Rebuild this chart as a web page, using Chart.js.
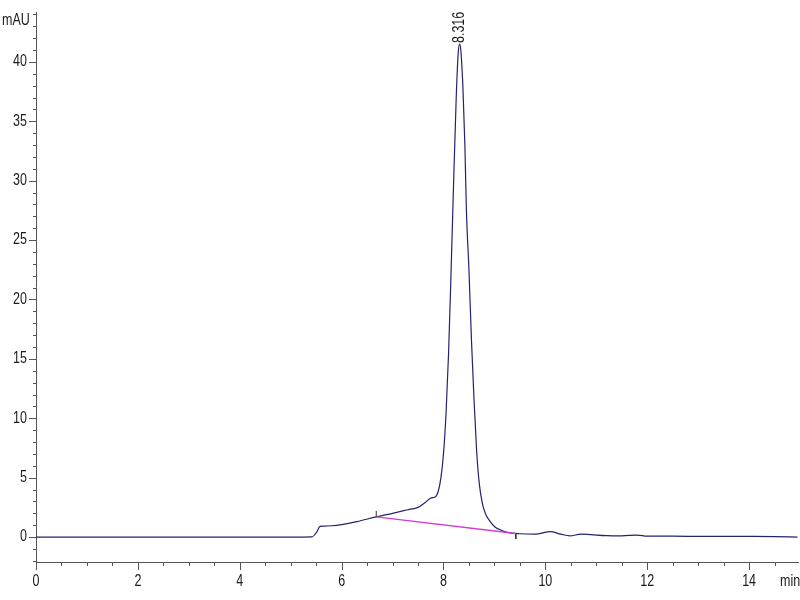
<!DOCTYPE html>
<html>
<head>
<meta charset="utf-8">
<script src="https://cdn.jsdelivr.net/npm/chart.js@4/dist/chart.umd.min.js"></script>
<style>
  html, body { margin: 0; padding: 0; background: #fff; }
  #wrap { width: 800px; height: 600px; }
</style>
</head>
<body>
<div id="wrap"><canvas id="c" width="800" height="600"></canvas></div>
<script>
// Chromatogram trace (retention time in min, absorbance in mAU)
const times = [0, 1, 2, 3, 4, 5, 5.42, 5.5, 5.58, 5.65, 5.8, 6.0, 6.3, 6.68, 7.0, 7.3, 7.5, 7.64, 7.76, 7.83, 7.90, 7.95, 8.00, 8.05, 8.10, 8.15, 8.20, 8.25, 8.29, 8.316, 8.34, 8.38, 8.42, 8.45, 8.50, 8.55, 8.60, 8.65, 8.70, 8.76, 8.82, 8.90, 9.01, 9.15, 9.31, 9.5, 9.8, 10.1, 10.3, 10.48, 10.7, 10.9, 11.2, 11.5, 11.8, 12.0, 12.5, 13.0, 14.0, 14.5, 14.95];
const absorbance = [0, 0, 0, 0, 0, 0, 0.02, 0.35, 0.9, 0.92, 0.95, 1.05, 1.3, 1.7, 2.0, 2.3, 2.5, 2.9, 3.3, 3.35, 3.9, 5.0, 7.0, 10.4, 15.5, 22.5, 30, 37, 40.8, 41.5, 41, 38, 33, 27.5, 22.5, 16.5, 11.5, 7.3, 4.6, 2.9, 2.0, 1.4, 0.85, 0.55, 0.35, 0.28, 0.25, 0.45, 0.25, 0.1, 0.25, 0.2, 0.12, 0.1, 0.17, 0.08, 0.07, 0.06, 0.05, 0.04, 0.0];
// Integration baseline (start/end)
const baseTimes = [6.68, 9.42];
const baseValues = [1.7, 0.3];
// Peak annotation
const peakTime = 8.316;
const peakLabel = "8.316";
// Axis labels
const yUnit = "mAU";
const xUnit = "min";
const xTickLabels = ["0", "2", "4", "6", "8", "10", "12", "14"];
const yTickLabels = ["0", "5", "10", "15", "20", "25", "30", "35", "40"];
const xMajorStep = 2;
const yMajorStep = 5;

const FONT = '"Liberation Sans", Arial, sans-serif';
const SQUISH = 0.78;

const trace = times.map((t, i) => ({ x: t, y: absorbance[i] }));
const baseline = baseTimes.map((t, i) => ({ x: t, y: baseValues[i] }));
const startMark = [{ x: baseTimes[0], y: baseValues[0] }, { x: baseTimes[0], y: baseValues[0] + 0.5 }];
const endMark = [{ x: baseTimes[1], y: baseValues[1] }, { x: baseTimes[1], y: baseValues[1] - 0.45 }];

function narrowText(ctx, text, x, y, align, rot) {
  ctx.save();
  ctx.translate(x, y);
  if (rot) ctx.rotate(rot);
  ctx.scale(SQUISH, 1);
  ctx.textAlign = align;
  ctx.textBaseline = 'middle';
  ctx.fillText(text, 0, 0);
  ctx.restore();
}

const extras = {
  id: 'extras',
  afterDraw(chart) {
    const ctx = chart.ctx;
    const xs = chart.scales.x, ys = chart.scales.y;
    const axisY = xs.top, axisX = ys.right;
    ctx.save();
    ctx.strokeStyle = '#555';
    ctx.lineWidth = 1;
    // x ticks
    for (let v = 0; v <= xs.max + 1e-9; v += 0.5) {
      const px = Math.round(xs.getPixelForValue(v)) + 0.5;
      const major = Math.abs(v % xMajorStep) < 1e-9;
      ctx.beginPath();
      ctx.moveTo(px, axisY);
      ctx.lineTo(px, axisY + (major ? 8 : 4));
      ctx.stroke();
    }
    // y ticks
    for (let v = Math.ceil(ys.min); v <= ys.max + 1e-9; v += 1) {
      const py = Math.round(ys.getPixelForValue(v)) + 0.5;
      const major = Math.abs(v % yMajorStep) < 1e-9;
      ctx.beginPath();
      ctx.moveTo(axisX, py);
      ctx.lineTo(axisX - (major ? 7 : 3), py);
      ctx.stroke();
    }
    // tick labels
    ctx.fillStyle = '#1a1a1a';
    ctx.font = '16px ' + FONT;
    xTickLabels.forEach(l => narrowText(ctx, l, xs.getPixelForValue(Number(l)), 582, 'center'));
    yTickLabels.forEach(l => narrowText(ctx, l, axisX - 9, ys.getPixelForValue(Number(l)), 'right'));
    // unit labels
    narrowText(ctx, yUnit, 2, 21, 'left');
    narrowText(ctx, xUnit, 780, 582, 'left');
    // peak label (rotated)
    narrowText(ctx, peakLabel, xs.getPixelForValue(peakTime), 43, 'left', -Math.PI / 2);
    ctx.restore();
  }
};

new Chart(document.getElementById('c'), {
  type: 'scatter',
  data: {
    datasets: [
      { data: baseline, showLine: true, borderColor: '#d23cd2', borderWidth: 1.3, pointRadius: 0, tension: 0 },
      { data: startMark, showLine: true, borderColor: '#333', borderWidth: 1, pointRadius: 0 },
      { data: endMark, showLine: true, borderColor: '#333', borderWidth: 1, pointRadius: 0 },
      { data: trace, showLine: true, borderColor: '#23236e', borderWidth: 1.2, pointRadius: 0, cubicInterpolationMode: 'monotone' }
    ]
  },
  options: {
    responsive: false,
    animation: false,
    events: [],
    layout: { padding: { top: 12, right: 2, left: 0, bottom: 0 } },
    plugins: { legend: { display: false }, tooltip: { enabled: false } },
    scales: {
      x: {
        type: 'linear',
        min: 0,
        max: 14.96,
        grid: { display: false, drawTicks: false, tickLength: 0 },
        border: { display: true, color: '#555', width: 1 },
        ticks: { display: false },
        afterFit(scale) { scale.height = 38; }
      },
      y: {
        type: 'linear',
        min: -2.1,
        max: 44.2,
        grid: { display: false, drawTicks: false, tickLength: 0 },
        border: { display: true, color: '#555', width: 1 },
        ticks: { display: false },
        afterFit(scale) { scale.width = 36; }
      }
    }
  },
  plugins: [extras]
});
</script>
</body>
</html>
